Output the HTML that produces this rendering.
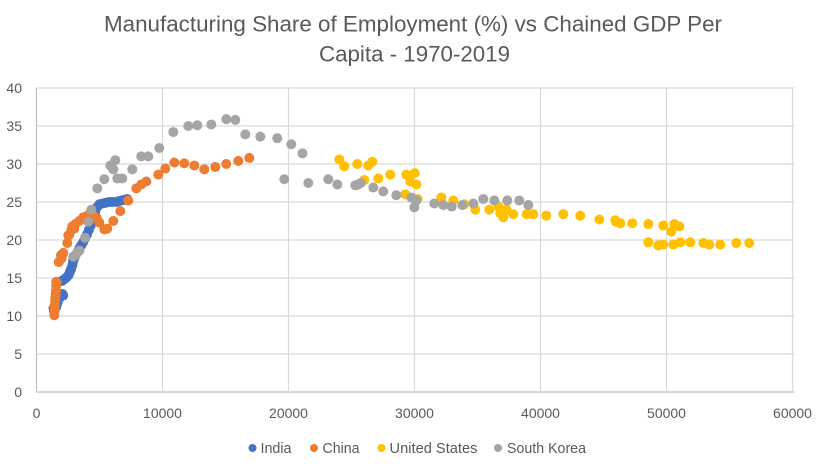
<!DOCTYPE html>
<html lang="en">
<head>
<meta charset="utf-8">
<title>Manufacturing Share of Employment vs Chained GDP Per Capita</title>
<style>
html,body{margin:0;padding:0;background:#fff;width:828px;height:470px;overflow:hidden}
svg{display:block}
text{font-family:"Liberation Sans",sans-serif;fill:#595959}
</style>
</head>
<body>
<svg id="chart" xmlns="http://www.w3.org/2000/svg" width="828" height="470" viewBox="0 0 828 470">
  <rect x="0" y="0" width="828" height="470" fill="#ffffff"/>
  <g>
    <text x="104" y="31.5" font-size="22" textLength="618" lengthAdjust="spacingAndGlyphs">Manufacturing Share of Employment (%) vs Chained GDP Per</text>
    <text x="319" y="61.5" font-size="22" textLength="191" lengthAdjust="spacingAndGlyphs">Capita - 1970-2019</text>
  </g>
  <g id="grid"></g>
  <g id="axes"></g>
  <g id="marks"></g>
  <g>
    <g>
      <circle cx="252.5" cy="448" r="4" fill="#4472C4"/>
      <text x="260.5" y="453" font-size="14.5" textLength="31" lengthAdjust="spacingAndGlyphs">India</text>
    </g>
    <g>
      <circle cx="314" cy="448" r="4" fill="#ED7D31"/>
      <text x="322.5" y="453" font-size="14.5" textLength="37" lengthAdjust="spacingAndGlyphs">China</text>
    </g>
    <g>
      <circle cx="381.5" cy="448" r="4" fill="#FFC000"/>
      <text x="389.5" y="453" font-size="14.5" textLength="88" lengthAdjust="spacingAndGlyphs">United States</text>
    </g>
    <g>
      <circle cx="498" cy="448" r="4" fill="#A5A5A5"/>
      <text x="507" y="453" font-size="14.5" textLength="79" lengthAdjust="spacingAndGlyphs">South Korea</text>
    </g>
  </g>
</svg>
<script>
const xTicks = [0, 10000, 20000, 30000, 40000, 50000, 60000];
const yTicks = [0, 5, 10, 15, 20, 25, 30, 35, 40];

const indiaPoints = [[1350,11.0],[1380,10.7],[1400,11.1],[1420,10.9],[1450,11.2],[1480,11.0],[1520,11.3],[1560,11.2],[1600,11.5],[1650,11.7],[1700,12.0],[1750,12.2],[1800,12.3],[1900,12.5],[2050,12.9],[2120,12.7],[2000,14.6],[2100,14.7],[2250,14.9],[2400,15.1],[2550,15.4],[2650,15.8],[2750,16.2],[2850,16.7],[2900,17.2],[3000,17.6],[3100,18.0],[3250,18.4],[3400,18.9],[3550,19.3],[3700,19.7],[3850,20.2],[4000,20.7],[4150,21.3],[4300,21.9],[4450,22.5],[4550,23.1],[4650,23.6],[4800,24.3],[5000,24.7],[5250,24.8],[5500,24.9],[5750,25.0],[6000,25.0],[6300,25.0],[6500,25.1],[6750,25.2],[7000,25.3],[7200,25.4]];

const chinaPoints = [[1413,10.1],[1430,10.6],[1440,11.0],[1460,11.5],[1480,12.0],[1500,12.4],[1520,12.9],[1540,13.3],[1560,14.0],[1600,14.4],[1570,14.5],[1762,17.1],[1944,18.0],[2000,17.6],[2127,18.3],[2444,19.6],[2524,20.6],[2603,20.7],[2762,21.3],[3000,21.5],[2841,21.8],[3079,22.1],[3397,22.5],[3714,23.0],[4111,23.3],[4508,23.2],[4778,22.9],[4984,22.3],[5381,21.4],[5619,21.5],[6095,22.5],[6651,23.8],[7286,25.2],[7921,26.8],[8317,27.3],[8714,27.7],[9667,28.6],[10222,29.4],[10937,30.2],[11730,30.1],[12524,29.8],[13317,29.3],[14190,29.6],[15063,30.0],[16016,30.4],[16889,30.8]];

const unitedStatesPoints = [[24032,30.6],[24428,29.7],[25460,30.0],[26333,29.8],[26651,30.3],[26016,27.9],[27127,28.1],[28079,28.6],[29349,28.6],[30016,28.8],[29667,27.7],[30143,27.3],[29270,26.0],[30254,25.4],[32127,25.6],[33079,25.2],[33952,24.7],[34825,24.0],[35937,24.0],[36651,24.4],[37286,24.0],[36810,23.5],[37048,23.0],[37841,23.4],[38905,23.4],[39429,23.4],[40460,23.2],[41810,23.4],[43159,23.2],[44667,22.7],[45937,22.6],[45992,22.4],[46333,22.2],[47286,22.2],[48556,22.1],[49746,21.9],[50619,22.1],[51016,21.8],[50381,21.1],[48556,19.7],[49349,19.3],[49746,19.4],[50540,19.4],[51095,19.7],[51889,19.7],[52921,19.6],[53397,19.4],[54270,19.4],[55540,19.6],[56571,19.6]];

const southKoreaPoints = [[2921,17.8],[3095,18.0],[3254,18.4],[3413,18.6],[3849,20.3],[4111,22.4],[4349,24.0],[4825,26.8],[5381,28.0],[5857,29.8],[6095,29.3],[6254,30.5],[6413,28.1],[6810,28.1],[7603,29.3],[8317,31.0],[8873,31.0],[9746,32.1],[10857,34.2],[12048,35.0],[12762,35.1],[13873,35.2],[15063,35.9],[15778,35.8],[16571,33.9],[17762,33.6],[19111,33.4],[20222,32.6],[21111,31.4],[19667,28.0],[21571,27.5],[23159,28.0],[23873,27.3],[25302,27.2],[25540,27.3],[25730,27.5],[26730,26.9],[27524,26.4],[28556,25.9],[29746,25.6],[30143,25.2],[29984,24.3],[31571,24.8],[32286,24.6],[32952,24.4],[33794,24.6],[34667,24.8],[35460,25.4],[36333,25.2],[37365,25.2],[38318,25.2],[39032,24.6]];

const NS = 'http://www.w3.org/2000/svg';
const plotLeft = 36.5, plotRight = 792.5, plotTop = 88, plotBottom = 392;
const xMax = 60000, yMax = 40;

function xScale(v) { return plotLeft + (v / xMax) * (plotRight - plotLeft); }
function yScale(v) { return plotBottom - (v / yMax) * (plotBottom - plotTop); }

function make(tag, attrs) {
  const el = document.createElementNS(NS, tag);
  for (const k in attrs) el.setAttribute(k, attrs[k]);
  return el;
}

const grid = document.getElementById('grid');
const axes = document.getElementById('axes');
const marks = document.getElementById('marks');

yTicks.forEach(function (t) {
  const line = make('line', { x1: plotLeft, x2: plotRight + 2, y1: yScale(t), y2: yScale(t), stroke: t === 0 ? '#bfbfbf' : '#d9d9d9', 'stroke-width': 1.2 });
  
  
  grid.appendChild(line);
  const label = make('text', { x: 22, y: yScale(t) + 5, 'font-size': 14, 'text-anchor': 'end' });
  
  
  label.textContent = String(t);
  axes.appendChild(label);
});

xTicks.forEach(function (t) {
  const line = make('line', { x1: xScale(t), x2: xScale(t), y1: plotTop, y2: plotBottom, stroke: t === 0 ? '#bfbfbf' : '#d9d9d9', 'stroke-width': 1.2 });
  
  
  grid.appendChild(line);
  const label = make('text', { x: xScale(t), y: 418, 'font-size': 14, 'text-anchor': 'middle' });
  
  
  label.textContent = String(t);
  axes.appendChild(label);
});

function drawSeries(points, color, groupName, pointName) {
  const g = make('g', {});
  
  
  points.forEach(function (p) {
    const c = make('circle', { cx: xScale(p[0]), cy: yScale(p[1]), r: 5, fill: color });
    
    
    g.appendChild(c);
  });
  marks.appendChild(g);
}

drawSeries(indiaPoints, '#4472C4', 'series-india', 'point-india');
drawSeries(chinaPoints, '#ED7D31', 'series-china', 'point-china');
drawSeries(unitedStatesPoints, '#FFC000', 'series-united-states', 'point-united-states');
drawSeries(southKoreaPoints, '#A5A5A5', 'series-south-korea', 'point-south-korea');
</script>
</body>
</html>
